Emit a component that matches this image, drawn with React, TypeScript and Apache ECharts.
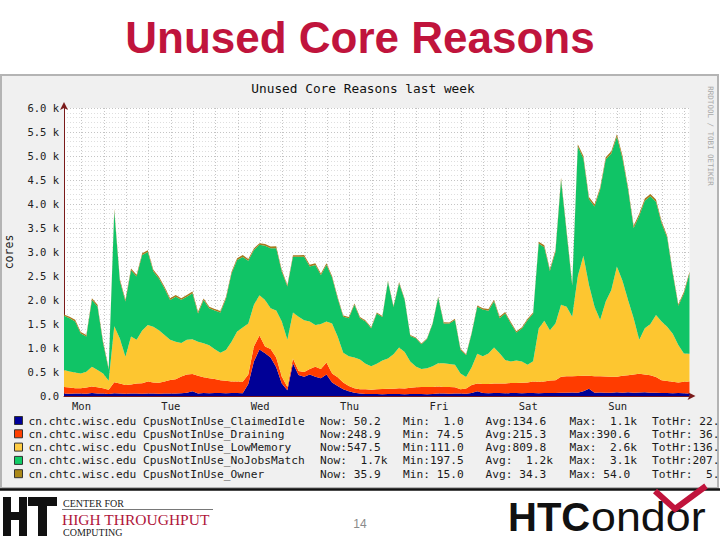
import React, { useEffect, useRef } from "react";
import * as echarts from "echarts";

// time axis: hours since Monday 00:00, one sample every 1.5 h
const START_HOUR = 7.3;
const END_HOUR = 175.3;
const STEP_HOURS = 1.5;

const dayLabels = ["Mon", "Tue", "Wed", "Thu", "Fri", "Sat", "Sun"];
const dayLabelHours = [12, 36, 60, 84, 108, 132, 156];
const gridHours = [12, 18, 24, 30, 36, 42, 48, 54, 60, 66, 72, 78, 84, 90, 96, 102, 108, 114, 120, 126, 132, 138, 144, 150, 156, 162, 168, 174];

// cores
const claimedIdle = [
  50, 48, 52, 50, 47, 60, 52, 50, 40, 55,
  50, 48, 52, 50, 46, 50, 52, 48, 50, 52,
  50, 55, 70, 100, 50, 60, 58, 62, 60, 58,
  60, 62, 58, 250, 720, 970, 890, 800, 600, 260,
  120, 680, 440, 400, 450, 400, 370, 450, 280, 210,
  140, 100, 70, 50, 40, 42, 40, 38, 40, 42,
  40, 38, 40, 42, 40, 38, 40, 50, 50, 48,
  52, 50, 48, 60, 100, 60, 58, 62, 60, 58,
  60, 62, 58, 60, 62, 58, 60, 62, 60, 70,
  70, 72, 68, 100, 150, 70, 72, 68, 70, 80,
  70, 80, 70, 72, 80, 70, 68, 60, 62, 58,
  60, 58, 50,
];
const draining = [
  140, 130, 110, 110, 130, 140, 130, 110, 90, 230,
  210, 180, 190, 210, 220, 250, 230, 230, 250, 280,
  300, 350, 380, 360, 370, 330, 310, 290, 270, 260,
  240, 240, 240, 200, 310, 290, 140, 180, 200, 140,
  70, 100, 80, 100, 110, 210, 190, 250, 190, 180,
  140, 110, 90, 90, 100, 90, 100, 110, 110, 110,
  120, 120, 130, 140, 150, 150, 150, 150, 140, 140,
  130, 90, 110, 170, 160, 190, 190, 200, 200, 200,
  210, 210, 220, 220, 240, 240, 240, 260, 270, 330,
  340, 340, 350, 320, 270, 340, 340, 340, 330, 320,
  350, 350, 380, 390, 370, 360, 330, 270, 250, 240,
  220, 240, 250,
];
const lowMemory = [
  350, 330, 330, 310, 330, 410, 360, 310, 190, 1170,
  940, 590, 1000, 910, 1100, 1180, 1160, 1090, 970, 840,
  780, 700, 720, 720, 710, 710, 690, 620, 570, 640,
  830, 1040, 1130, 1060, 870, 840, 970, 850, 980, 1150,
  980, 960, 1130, 1080, 990, 870, 940, 850, 1040, 850,
  620, 620, 640, 620, 530, 490, 530, 590, 630, 720,
  850, 760, 550, 430, 370, 390, 430, 480, 490, 480,
  470, 330, 240, 370, 620, 580, 640, 750, 630, 490,
  450, 470, 440, 370, 420, 1110, 1270, 1050, 1180, 1500,
  1450, 1240, 2080, 2500, 1890, 1450, 1170, 1560, 1810, 2300,
  1980, 1570, 1170, 710, 960, 1070, 1290, 1220, 1130, 1000,
  780, 590, 580,
];
const noJobsMatch = [
  1130, 1110, 1060, 830, 730, 1390, 1320, 630, 230, 2400,
  1200, 1150, 1380, 1320, 1570, 1520, 1150, 1080, 970, 830,
  940, 900, 900, 960, 590, 900, 770, 810, 840, 1070,
  1420, 1490, 1470, 1310, 1140, 1050, 1130, 1250, 1300, 1040,
  1110, 1160, 1250, 1320, 1150, 1250, 1020, 1180, 960, 790,
  750, 790, 1100, 860, 880, 790, 1050, 910, 1600, 980,
  1340, 1080, 530, 590, 520, 610, 880, 1370, 830, 840,
  930, 490, 450, 700, 980, 970, 890, 960, 730, 970,
  790, 580, 690, 930, 990, 1770, 1530, 1230, 1490, 2600,
  1540, 650, 2700, 2030, 1790, 2090, 2720, 2960, 2840, 2700,
  2550, 2300, 1880, 2580, 2660, 2660, 2360, 2050, 1860, 1250,
  820, 1250, 1670,
];
const owner = [
  30, 32, 35, 34, 33, 36, 38, 35, 30, 40,
  38, 36, 35, 34, 36, 38, 37, 35, 34, 33,
  32, 34, 36, 35, 33, 32, 30, 31, 33, 35,
  36, 38, 37, 36, 35, 34, 36, 37, 38, 35,
  30, 33, 34, 36, 35, 34, 33, 35, 32, 30,
  28, 27, 26, 25, 24, 22, 20, 18, 20, 22,
  25, 24, 20, 18, 16, 15, 18, 22, 24, 25,
  26, 24, 20, 22, 28, 30, 32, 33, 35, 34,
  30, 28, 26, 28, 30, 36, 40, 38, 42, 45,
  44, 40, 48, 50, 47, 45, 42, 44, 48, 52,
  54, 50, 46, 44, 45, 47, 46, 40, 38, 36,
  34, 36, 36,
];

const seriesNames = [
  "cn.chtc.wisc.edu CpusNotInUse_ClaimedIdle",
  "cn.chtc.wisc.edu CpusNotInUse_Draining",
  "cn.chtc.wisc.edu CpusNotInUse_LowMemory",
  "cn.chtc.wisc.edu CpusNotInUse_NoJobsMatch",
  "cn.chtc.wisc.edu CpusNotInUse_Owner",
];
const areaColors = ["#000096", "#ff3c00", "#fdc630", "#10c466", "#a6791c"];
const swatchColors = ["#000099", "#ff4000", "#ffcc44", "#11cc66", "#aa8818"];

const nowValues = ["Now: 50.2", "Now:248.9", "Now:547.5", "Now:  1.7k", "Now: 35.9"];
const minValues = ["Min:  1.0", "Min: 74.5", "Min:111.0", "Min:197.5", "Min: 15.0"];
const avgValues = ["Avg:134.6", "Avg:215.3", "Avg:809.8", "Avg:  1.2k", "Avg: 34.3"];
const maxValues = ["Max:  1.1k", "Max:390.6", "Max:  2.6k", "Max:  3.1k", "Max: 54.0"];
const totValues = ["TotHr: 22.", "TotHr: 36.", "TotHr:136.", "TotHr:207.", "TotHr:  5."];

const MONO = '"DejaVu Sans Mono", monospace';
const SANS = '"Liberation Sans", Arial, sans-serif';
const SERIF = '"Liberation Serif", "DejaVu Serif", serif';
const CRIMSON = "#c0143c";

function txt(text: string, x: number, y: number, opts: any = {}) {
  const align = opts.align || "left";
  const vAlign = opts.vAlign || "middle";
  return {
    type: "text",
    x,
    y,
    rotation: opts.rotation || 0,
    scaleX: opts.scaleX || 1,
    z: opts.z ?? 5,
    silent: true,
    style: {
      text,
      fill: opts.fill || "#1a1a1a",
      fontSize: opts.fontSize || 11,
      fontFamily: opts.fontFamily || MONO,
      fontWeight: opts.fontWeight || "normal",
      align,
      textAlign: align,
      verticalAlign: vAlign,
      textVerticalAlign: vAlign,
    },
  };
}

function legendCell(s: string, x: number, y: number, cw: number, fs: number) {
  const idx = s.indexOf(":") + 1;
  const label = s.slice(0, idx);
  const rest = s.slice(idx);
  const lead = rest.length - rest.replace(/^ +/, "").length;
  return [
    txt(label, x, y, { fontSize: fs }),
    txt(rest.trim(), x + (label.length + lead) * cw, y, { fontSize: fs }),
  ];
}

export default function App() {
  const ref = useRef<HTMLDivElement>(null);

  useEffect(() => {
    if (!ref.current) return;
    const chart = echarts.init(ref.current, null, { renderer: "svg" });
    const layers = [claimedIdle, draining, lowMemory, noJobsMatch, owner];
    const sampleHours = claimedIdle.map((_, i) => (START_HOUR + STEP_HOURS * i).toFixed(1));

    const FS = 11.2;
    const CW = 6.74;
    const rowY = [421, 434.3, 447.6, 460.9, 474.2];
    const colX = [320, 403, 485.5, 569.5, 652];

    const legendEls: any[] = [];
    seriesNames.forEach((name, r) => {
      const y = rowY[r];
      legendEls.push({
        type: "rect",
        z: 5,
        shape: { x: 14.5, y: y - 4.5, width: 8, height: 8 },
        style: { fill: swatchColors[r], stroke: "#333", lineWidth: 1 },
      });
      legendEls.push(txt(name, 28.5, y, { fontSize: FS }));
      const cols = [nowValues[r], minValues[r], avgValues[r], maxValues[r], totValues[r]];
      cols.forEach((c, k) => legendEls.push(...legendCell(c, colX[k], y, CW, FS)));
    });

    const graphics: any[] = [
      // rrdtool image frame
      {
        type: "rect",
        z: -1,
        shape: { x: 1, y: 75, width: 717, height: 413 },
        style: { fill: "#f0f0f0", stroke: "#b4b4b4", lineWidth: 2 },
      },
      {
        type: "line",
        z: 5,
        shape: { x1: 0, y1: 489.5, x2: 720, y2: 489.5 },
        style: { stroke: "#111", lineWidth: 2.5 },
      },
      // slide title
      txt("Unused Core Reasons", 360, 37, {
        align: "center",
        fontSize: 44,
        fontFamily: SANS,
        fontWeight: "bold",
        fill: CRIMSON,
      }),
      // rrd title
      txt("Unused Core Reasons last week", 363, 88, { align: "center", fontSize: 12.8, fill: "#111" }),
      // vertical labels
      txt("cores", 9, 252, { align: "center", fontSize: 11.5, rotation: Math.PI / 2, fill: "#222" }),
      txt("RRDTOOL / TOBI OETIKER", 710, 136, {
        align: "center",
        fontSize: 7.5,
        rotation: -Math.PI / 2,
        fill: "#a8a8a8",
      }),
      ...legendEls,
      // footer: page number
      txt("14", 360, 524, { align: "center", fontSize: 12, fontFamily: SANS, fill: "#8a8a8a" }),
      // CHTC logo
      { type: "rect", z: 5, shape: { x: 3, y: 497, width: 8, height: 39 }, style: { fill: "#111" } },
      { type: "rect", z: 5, shape: { x: 19, y: 497, width: 8, height: 39 }, style: { fill: "#111" } },
      { type: "rect", z: 5, shape: { x: 3, y: 512, width: 24, height: 8 }, style: { fill: "#111" } },
      { type: "rect", z: 5, shape: { x: 28, y: 497, width: 29, height: 9 }, style: { fill: "#111" } },
      { type: "rect", z: 5, shape: { x: 38, y: 497, width: 9, height: 39 }, style: { fill: "#111" } },
      txt("CENTER FOR", 63, 503, { fontSize: 10, fontFamily: SERIF, fill: "#222" }),
      {
        type: "line",
        z: 5,
        shape: { x1: 62, y1: 509.5, x2: 213, y2: 509.5 },
        style: { stroke: "#555", lineWidth: 0.8 },
      },
      txt("HIGH THROUGHPUT", 62, 519, { fontSize: 15.5, fontFamily: SERIF, fill: "#b0153a" }),
      txt("COMPUTING", 63, 532, { fontSize: 10, fontFamily: SERIF, fill: "#222" }),
      // HTCondor logo
      txt("HTC", 508, 517, { fontSize: 40, fontFamily: SANS, fontWeight: "bold", fill: "#111" }),
      txt("ondor", 591, 517, { fontSize: 40, fontFamily: SANS, fill: "#111", scaleX: 1.12 }),
      {
        type: "polyline",
        z: 6,
        shape: { points: [[655, 491], [675, 509], [706, 486]] },
        style: { stroke: CRIMSON, lineWidth: 6, fill: "none", lineJoin: "miter" },
      },
    ];

    const arrowLine = {
      show: true,
      lineStyle: { color: "#7a1a1a", width: 1 },
      symbol: ["none", "arrow"],
      symbolSize: [6, 8],
      symbolOffset: [0, 6],
    };

    chart.setOption({
      animation: false,
      backgroundColor: "#ffffff",
      grid: {
        left: 64,
        top: 108,
        width: 625.5,
        height: 288,
        show: true,
        backgroundColor: "#ffffff",
        borderWidth: 0,
      },
      xAxis: [
        {
          type: "category",
          data: sampleHours,
          boundaryGap: false,
          show: false,
        },
        {
          type: "value",
          position: "bottom",
          min: START_HOUR,
          max: END_HOUR,
          axisLine: arrowLine,
          axisTick: { show: false, customValues: gridHours },
          axisLabel: {
            customValues: dayLabelHours,
            formatter: (v: number) => {
              const k = dayLabelHours.indexOf(Math.round(v));
              return k >= 0 ? dayLabels[k] : "";
            },
            fontFamily: MONO,
            fontSize: 10.5,
            color: "#222",
            margin: 4,
          },
          splitLine: { show: true, lineStyle: { color: "#c4c4c4", type: [1, 2], width: 1 } },
        },
      ],
      yAxis: {
        type: "value",
        min: 0,
        max: 6000,
        interval: 500,
        axisLine: arrowLine,
        axisTick: { show: false },
        axisLabel: {
          formatter: (v: number) => (v === 0 ? "0.0" : (v / 1000).toFixed(1) + " k"),
          fontFamily: MONO,
          fontSize: 10.5,
          color: "#222",
          margin: 5,
        },
        splitLine: { show: true, lineStyle: { color: "#c4c4c4", type: [1, 2], width: 1 } },
        minorTick: { show: false, splitNumber: 5 },
        minorSplitLine: { show: true, lineStyle: { color: "#dedede", type: [1, 2], width: 1 } },
      },
      graphic: { elements: graphics },
      series: layers.map((arr, k) => ({
        name: seriesNames[k],
        type: "line",
        xAxisIndex: 0,
        stack: "cores",
        symbol: "none",
        showSymbol: false,
        silent: true,
        lineStyle: { width: 0 },
        itemStyle: { color: areaColors[k] },
        areaStyle: { color: areaColors[k], opacity: 1 },
        emphasis: { disabled: true },
        data: arr,
        z: 2,
      })),
    });

    return () => chart.dispose();
  }, []);

  return (
    <div
      ref={ref}
      style={{ position: "absolute", left: 0, top: 0, width: 720, height: 540, background: "#fff" }}
    />
  );
}
